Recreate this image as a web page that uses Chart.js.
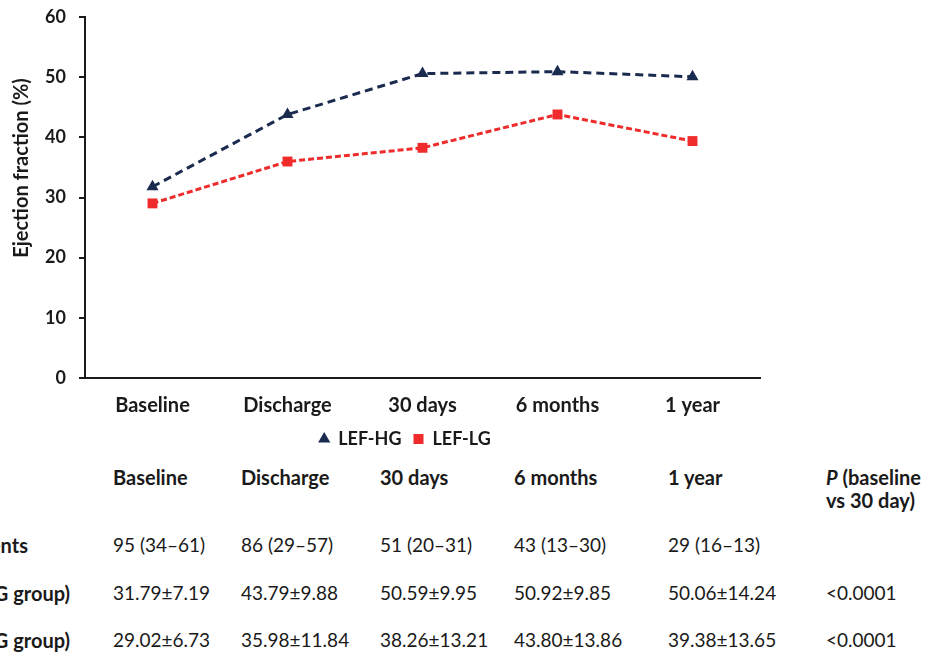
<!DOCTYPE html>
<html><head><meta charset="utf-8">
<script src="https://cdn.jsdelivr.net/npm/chart.js@4"></script>
<style>
html,body{margin:0;padding:0;background:#fff;width:925px;height:655px;overflow:hidden;position:relative;font-family:Lato, sans-serif;color:#1a1a1a}
#wrap{position:absolute;left:0;top:0;width:925px;height:460px}
.t{position:absolute;white-space:nowrap;font-size:19px;line-height:22px;transform:translateY(-50%);font-variant-numeric:tabular-nums}
.r{transform:translate(-100%,-50%)}
.h{font-weight:700;font-size:20px}
</style></head><body>
<div id="wrap"><canvas id="c" width="925" height="460" style="width:925px;height:460px"></canvas></div>
<div id="table"></div>
<script>
const categories = ['Baseline', 'Discharge', '30 days', '6 months', '1 year'];
const lefHG = [31.79, 43.79, 50.59, 50.92, 50.06];
const lefLG = [29.02, 35.98, 38.26, 43.80, 39.38];
const lefHGsd = [7.19, 9.88, 9.95, 9.85, 14.24];
const lefLGsd = [6.73, 11.84, 13.21, 13.86, 13.65];
const patients = ['95 (34–61)', '86 (29–57)', '51 (20–31)', '43 (13–30)', '29 (16–13)'];
const pValues = ['<0.0001', '<0.0001'];
const rowLabels = ['No. of patients', 'EF (LEF-HG group)', 'EF (LEF-LG group)'];
const yTicks = [0, 10, 20, 30, 40, 50, 60];
const yTitleText = 'Ejection fraction (%)';

const INK = '#1a1a1a';
const NAVY = '#1b2b50';
const RED = '#ef2b2b';
const FONT = 'Lato, sans-serif';

const legendShift = {
  id: 'legendShift',
  afterLayout(chart) {
    const l = chart.legend;
    if (!l) return;
    const shift = 405 - (l.left + l.right) / 2;
    l.left += shift; l.right += shift;
  }
};

const yTitle = {
  id: 'yTitle',
  afterDraw(chart) {
    const c = chart.ctx;
    c.save();
    c.translate(22, 168);
    c.rotate(-Math.PI / 2);
    c.font = 'bold 20px ' + FONT;
    c.fillStyle = INK;
    c.textAlign = 'center';
    c.textBaseline = 'middle';
    c.fillText(yTitleText, 0, 0);
    c.restore();
  }
};

new Chart(document.getElementById('c'), {
  type: 'line',
  data: {
    labels: categories,
    datasets: [
      { label: 'LEF-HG', data: lefHG, borderColor: NAVY, backgroundColor: NAVY, borderWidth: 3,
        borderDash: [8, 5], pointStyle: 'triangle', pointRadius: 7, pointBorderWidth: 0, tension: 0 },
      { label: 'LEF-LG', data: lefLG, borderColor: RED, backgroundColor: RED, borderWidth: 3,
        borderDash: [6, 3], pointStyle: 'rect', pointRadius: 7, pointBorderWidth: 0, tension: 0 }
    ]
  },
  options: {
    responsive: false, animation: false, devicePixelRatio: 1,
    layout: { padding: { left: 0, right: 165, top: 17, bottom: 2 } },
    plugins: {
      legend: { position: 'bottom',
        labels: { usePointStyle: true, boxWidth: 10, boxHeight: 10, color: INK, padding: 12,
          font: { family: FONT, size: 18, weight: 'bold' } } },
      tooltip: { enabled: false }
    },
    scales: {
      x: {
        offset: true,
        grid: { display: false, drawTicks: false, offset: true },
        border: { color: INK, width: 2 },
        ticks: { color: INK, padding: 16, font: { family: FONT, size: 20, weight: 'bold' } },
        afterFit(s) { s.height = 40; }
      },
      y: {
        min: 0, max: 60,
        afterBuildTicks(s) { s.ticks = yTicks.map(v => ({ value: v })); },
        grid: { drawOnChartArea: false, drawTicks: true, tickLength: 6, color: INK, lineWidth: 2 },
        border: { color: INK, width: 2 },
        ticks: { color: INK, padding: 13, font: { family: FONT, size: 18, weight: 'bold' } },
        title: { display: false },
        afterFit(s) { s.width = 85; s.paddingTop = 10; s.paddingBottom = 10; }
      }
    }
  },
  plugins: [legendShift, yTitle]
});

// Table below the chart
const colX = [113, 241, 380, 514, 668, 826];
const rowY = [545, 593, 640];
const tbl = document.getElementById('table');
function put(text, x, y, cls, html) {
  const d = document.createElement('div');
  d.className = 't ' + (cls || '');
  d.style.left = x + 'px'; d.style.top = y + 'px';
  if (html) d.innerHTML = text; else d.textContent = text;
  tbl.appendChild(d);
}
categories.forEach((c, i) => put(c, colX[i], 477, 'h'));
put('<i>P</i> (baseline', colX[5], 477, 'h', true);
put('vs 30 day)', colX[5], 500, 'h');
put(rowLabels[0], 28, rowY[0], 'h r');
put(rowLabels[1], 70, rowY[1], 'h r');
put(rowLabels[2], 70, rowY[2], 'h r');
patients.forEach((p, i) => put(p, colX[i], rowY[0]));
lefHG.forEach((v, i) => put(v.toFixed(2) + '±' + lefHGsd[i].toFixed(2), colX[i], rowY[1]));
lefLG.forEach((v, i) => put(v.toFixed(2) + '±' + lefLGsd[i].toFixed(2), colX[i], rowY[2]));
put(pValues[0], colX[5], rowY[1]);
put(pValues[1], colX[5], rowY[2]);
</script>
</body></html>
